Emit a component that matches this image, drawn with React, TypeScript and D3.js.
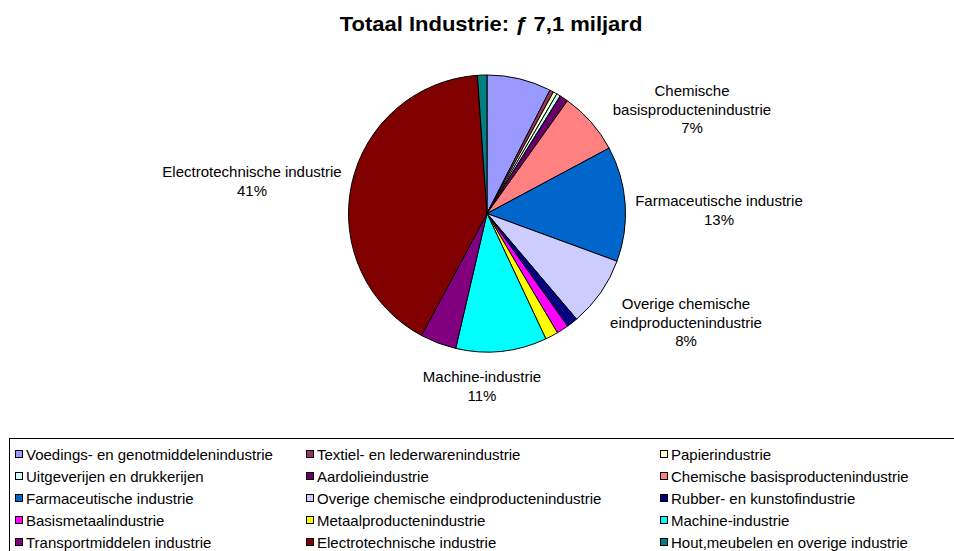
import React from "react";
import * as d3 from "d3";

const categories = [
  "Voedings- en genotmiddelenindustrie",
  "Textiel- en lederwarenindustrie",
  "Papierindustrie",
  "Uitgeverijen en drukkerijen",
  "Aardolieindustrie",
  "Chemische basisproductenindustrie",
  "Farmaceutische industrie",
  "Overige chemische eindproductenindustrie",
  "Rubber- en kunstofindustrie",
  "Basismetaalindustrie",
  "Metaalproductenindustrie",
  "Machine-industrie",
  "Transportmiddelen industrie",
  "Electrotechnische industrie",
  "Hout,meubelen en overige industrie",
];

const shares = [7.5, 0.45, 0.45, 0.45, 1.0, 7.3, 13.4, 8.2, 1.3, 1.4, 1.5, 10.6, 4.2, 41.0, 1.1];

const colors = [
  "#9999FF", "#993366", "#FFFFCC", "#CCFFFF", "#660066", "#FF8080", "#0066CC",
  "#CCCCFF", "#000080", "#FF00FF", "#FFFF00", "#00FFFF", "#800080", "#800000", "#008080",
];

const sliceLabels = [
  { idx: 5, lines: ["Chemische", "basisproductenindustrie", "7%"], x: 692, y: 91 },
  { idx: 6, lines: ["Farmaceutische industrie", "13%"], x: 719, y: 201 },
  { idx: 7, lines: ["Overige chemische", "eindproductenindustrie", "8%"], x: 686, y: 304 },
  { idx: 11, lines: ["Machine-industrie", "11%"], x: 482, y: 377 },
  { idx: 13, lines: ["Electrotechnische industrie", "41%"], x: 252, y: 172 },
];

const title = "Totaal Industrie: ƒ 7,1 miljard";

export default function App() {
  const W = 954, H = 551;
  const cx = 487, cy = 213.5, r = 138.5;
  const pie = d3.pie<number>().sort(null).value((d) => d);
  const arcs = pie(shares);
  const arc = d3.arc<d3.PieArcDatum<number>>().innerRadius(0).outerRadius(r);
  const font = "Liberation Sans, Arial, sans-serif";

  const colX = [15, 306, 660];
  const rowY = (i: number) => 455 + i * 22;

  return (
    <svg width={W} height={H} style={{ position: "absolute", left: 0, top: 0, background: "#fff" }} fontFamily={font}>
      <rect x={0} y={0} width={W} height={H} fill="#fff" />
      <text transform="translate(491,31) scale(1.1,1)" textAnchor="middle" fontSize={20} fontWeight="bold" fill="#000">{title}</text>
      <g transform={`translate(${cx},${cy})`}>
        {arcs.map((a, i) => (
          <path key={i} d={arc(a) || ""} fill={colors[i]} stroke="#000" strokeWidth={1} />
        ))}
      </g>
      {sliceLabels.map((l, k) => (
        <text key={k} textAnchor="middle" fontSize={15} fill="#000">
          {l.lines.map((ln, j) => (
            <tspan key={j} x={l.x} y={l.y + 5 + j * 18.5}>{ln}</tspan>
          ))}
        </text>
      ))}
      <rect x={9.5} y={438.5} width={W} height={H} fill="none" stroke="#000" strokeWidth={1} />
      {categories.map((c, i) => {
        const col = i % 3;
        const row = Math.floor(i / 3);
        const y = rowY(row);
        return (
          <g key={i}>
            <rect x={colX[col] + 0.5} y={y - 4.5} width={7} height={7} fill={colors[i]} stroke="#000" strokeWidth={1} />
            <text x={colX[col] + 11} y={y + 5} fontSize={15} fill="#000">{c}</text>
          </g>
        );
      })}
    </svg>
  );
}
